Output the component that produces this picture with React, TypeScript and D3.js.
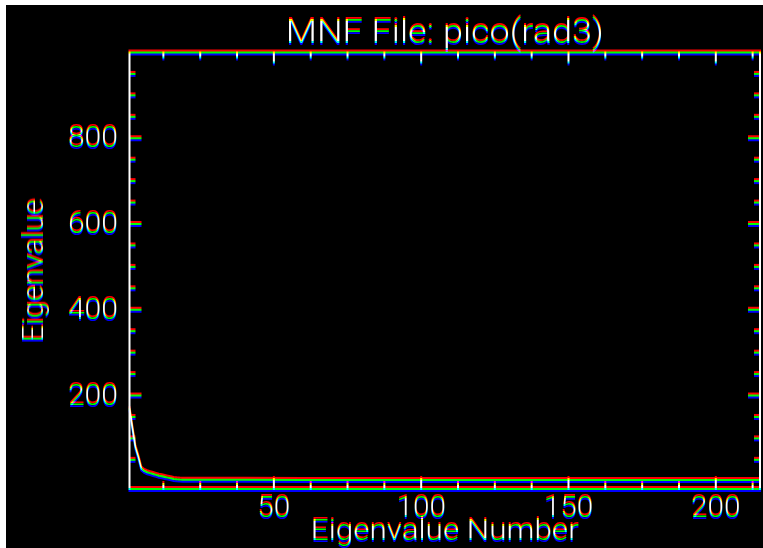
import * as d3 from 'd3';

const W = 763;
const H = 548;

// eigenvalue index and value
const eigenNumbers = [1, 2, 3, 4, 5, 6, 7, 8, 9, 10, 11, 12, 13, 14, 15, 16, 17, 18, 19, 20, 25, 30, 40, 60, 80, 100, 130, 160, 190, 215];
const eigenValues = [170, 124, 80, 57, 30, 24, 21, 19, 17, 15, 13, 11.5, 10, 8.5, 7, 5.5, 4.5, 4, 3.8, 3.6, 3.5, 3.4, 3.3, 3.2, 3.2, 3.1, 3.1, 3.0, 3.0, 3.0];

const xLabels = [50, 100, 150, 200];
const yLabels = [200, 400, 600, 800];

const title = 'MNF File: pico(rad3)';
const xTitle = 'Eigenvalue Number';
const yTitle = 'Eigenvalue';

const font = 'Roboto, "Liberation Sans", sans-serif';

export default function App(): JSX.Element {
  const x = d3.scaleLinear().domain([1, 215]).range([129.5, 760]);
  const y = d3.scaleLinear().domain([-18, 1000]).range([489, 52.5]);

  const [x0, x1] = x.range();
  const [y0, y1] = y.range();

  const xMinor = d3.range(12.5, 215, 12.5).filter((v) => v % 50 !== 0);
  const yMinor = d3.range(50, 1000, 50).filter((v) => v % 200 !== 0);

  const pts = eigenNumbers.map((n, i) => [n, eigenValues[i]] as [number, number]);
  const line = d3
    .line<[number, number]>()
    .x((d) => x(d[0]))
    .y((d) => y(d[1]));

  const sw = 2;

  return (
    <svg
      width={W}
      height={H}
      style={{ position: 'absolute', left: 0, top: 0, display: 'block' }}
      xmlns="http://www.w3.org/2000/svg"
    >
      <defs>
        {/* split channels and shift them, like the old screen grab */}
        <filter
          id="fringe"
          filterUnits="userSpaceOnUse"
          x={0}
          y={0}
          width={W}
          height={H}
          colorInterpolationFilters="sRGB"
        >
          <feColorMatrix in="SourceGraphic" type="matrix" values="1 0 0 0 0  0 0 0 0 0  0 0 0 0 0  0 0 0 1 0" result="r" />
          <feOffset in="r" dy={-2} result="r2" />
          <feColorMatrix in="SourceGraphic" type="matrix" values="0 0 0 0 0  0 1 0 0 0  0 0 0 0 0  0 0 0 1 0" result="g" />
          <feColorMatrix in="SourceGraphic" type="matrix" values="0 0 0 0 0  0 0 0 0 0  0 0 1 0 0  0 0 0 1 0" result="b" />
          <feOffset in="b" dy={2} result="b2" />
          <feBlend in="r2" in2="g" mode="screen" result="rg" />
          <feBlend in="rg" in2="b2" mode="screen" />
        </filter>
      </defs>
      <rect width={W} height={H} fill="#fff" />
      <rect x={6} y={5} width={W - 6} height={H - 5} fill="#000" />

      <g filter="url(#fringe)" stroke="#fff" fill="none" strokeWidth={sw}>
        <text
          x={(x0 + x1) / 2}
          y={43}
          fill="#fff"
          stroke="none"
          fontFamily={font}
          fontSize={34}
          fontWeight={300}
          textAnchor="middle"
          textLength={318}
          lengthAdjust="spacingAndGlyphs"
        >
          {title}
        </text>

        {/* frame */}
        <rect x={x0} y={y1} width={x1 - x0} height={y0 - y1} />

        {/* x ticks, bottom and top */}
        {xLabels.map((v) => (
          <g key={'xm' + v}>
            <line x1={x(v)} x2={x(v)} y1={y0} y2={y0 - 11} />
            <line x1={x(v)} x2={x(v)} y1={y1} y2={y1 + 11} />
          </g>
        ))}
        {xMinor.map((v) => (
          <g key={'xn' + v}>
            <line x1={x(v)} x2={x(v)} y1={y0} y2={y0 - 6} />
            <line x1={x(v)} x2={x(v)} y1={y1} y2={y1 + 6} />
          </g>
        ))}

        {/* y ticks, left and right */}
        {yLabels.map((v) => (
          <g key={'ym' + v}>
            <line x1={x0} x2={x0 + 12} y1={y(v)} y2={y(v)} />
            <line x1={x1} x2={x1 - 12} y1={y(v)} y2={y(v)} />
          </g>
        ))}
        {yMinor.map((v) => (
          <g key={'yn' + v}>
            <line x1={x0} x2={x0 + 6} y1={y(v)} y2={y(v)} />
            <line x1={x1} x2={x1 - 6} y1={y(v)} y2={y(v)} />
          </g>
        ))}

        <path d={line(pts) as string} />

        <g fill="#fff" stroke="none" fontFamily={font} fontSize={30} fontWeight={300}>
          {xLabels.map((v) => (
            <text
              key={'xl' + v}
              x={x(v)}
              y={517}
              textAnchor="middle"
              textLength={String(v).length * 16.5}
              lengthAdjust="spacingAndGlyphs"
            >
              {v}
            </text>
          ))}
          {yLabels.map((v) => (
            <text
              key={'yl' + v}
              x={118}
              y={y(v) + 9}
              textAnchor="end"
              textLength={String(v).length * 16.7}
              lengthAdjust="spacingAndGlyphs"
            >
              {v}
            </text>
          ))}
          <text
            x={(x0 + x1) / 2}
            y={540}
            textAnchor="middle"
            textLength={268}
            lengthAdjust="spacingAndGlyphs"
          >
            {xTitle}
          </text>
          <text
            transform={`translate(43,${(y0 + y1) / 2}) rotate(-90)`}
            textAnchor="middle"
            textLength={143}
            lengthAdjust="spacingAndGlyphs"
          >
            {yTitle}
          </text>
        </g>
      </g>
    </svg>
  );
}
